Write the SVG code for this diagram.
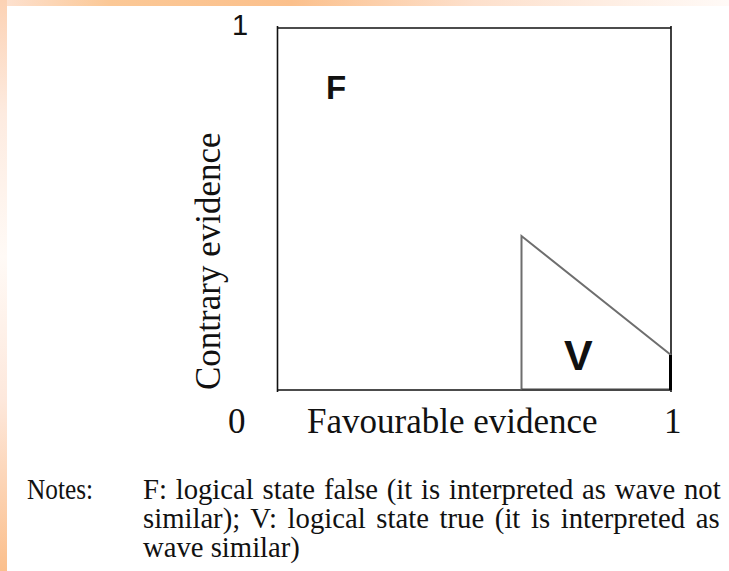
<svg xmlns="http://www.w3.org/2000/svg" width="729" height="571" viewBox="0 0 729 571">
<defs>
<linearGradient id="topband" x1="0" y1="0" x2="1" y2="0">
<stop offset="0" stop-color="#fde2d2"/>
<stop offset="0.15" stop-color="#fbc896"/>
<stop offset="0.4" stop-color="#fbc08c"/>
<stop offset="0.65" stop-color="#fde0cc"/>
<stop offset="1" stop-color="#fffaf7"/>
</linearGradient>
<linearGradient id="leftband" x1="0" y1="0" x2="0" y2="1">
<stop offset="0" stop-color="#fcd2b4"/>
<stop offset="0.2" stop-color="#fdebe0"/>
<stop offset="0.45" stop-color="#fffaf6"/>
<stop offset="0.7" stop-color="#fde8dc"/>
<stop offset="1" stop-color="#fbbf8c"/>
</linearGradient>
<style>
.frame{stroke:#111;stroke-width:1.6;fill:none}
.tri{stroke:#6e6e6e;stroke-width:2;fill:none}
.sans{font-family:"Liberation Sans",Arial,sans-serif;fill:#111}
.serif{font-family:"Liberation Serif","Times New Roman",serif;fill:#111}
</style>
</defs>
<rect x="0" y="0" width="729" height="571" fill="#ffffff"/>
<g id="background">
<rect x="0" y="0" width="729" height="6" fill="url(#topband)"/>
<rect x="0" y="0" width="7" height="571" fill="url(#leftband)"/>
</g>
<g id="frame">
<line class="frame" x1="277.5" y1="28" x2="671" y2="28"/>
<line class="frame" x1="277.5" y1="26" x2="277.5" y2="392"/>
<line class="frame" x1="671" y1="26" x2="671" y2="392"/>
<line class="frame" x1="277.5" y1="390" x2="671" y2="390"/>
</g>
<g id="region-F">
<text class="sans" x="326" y="99" font-size="33" font-weight="bold">F</text>
</g>
<g id="region-V">
<polyline class="tri" points="521.5,390 521.5,236 671,355"/>
<line x1="521.5" y1="389.5" x2="671" y2="389.5" stroke="#444" stroke-width="2"/>
<line x1="670.5" y1="355" x2="670.5" y2="390" stroke="#000" stroke-width="3"/>
<text class="sans" x="564" y="370" font-size="43" font-weight="bold">V</text>
</g>
<g id="axis-labels">
<text class="sans" x="232" y="35" font-size="29">1</text>
<text class="serif" x="228" y="433" font-size="35">0</text>
<text class="serif" x="664" y="433" font-size="35">1</text>
<text class="serif" x="307" y="433" font-size="35">Favourable evidence</text>
<text class="serif" font-size="35" transform="translate(220,390) rotate(-90)">Contrary evidence</text>
</g>
<g id="notes" class="serif" font-size="28.7">
<text x="27" y="499" textLength="66" lengthAdjust="spacingAndGlyphs">Notes:</text>
<text x="143" y="499" word-spacing="1.6">F: logical state false (it is interpreted as wave not</text>
<text x="143" y="528" word-spacing="3.5">similar); V: logical state true (it is interpreted as</text>
<text x="143" y="557">wave similar)</text>
</g>
</svg>
